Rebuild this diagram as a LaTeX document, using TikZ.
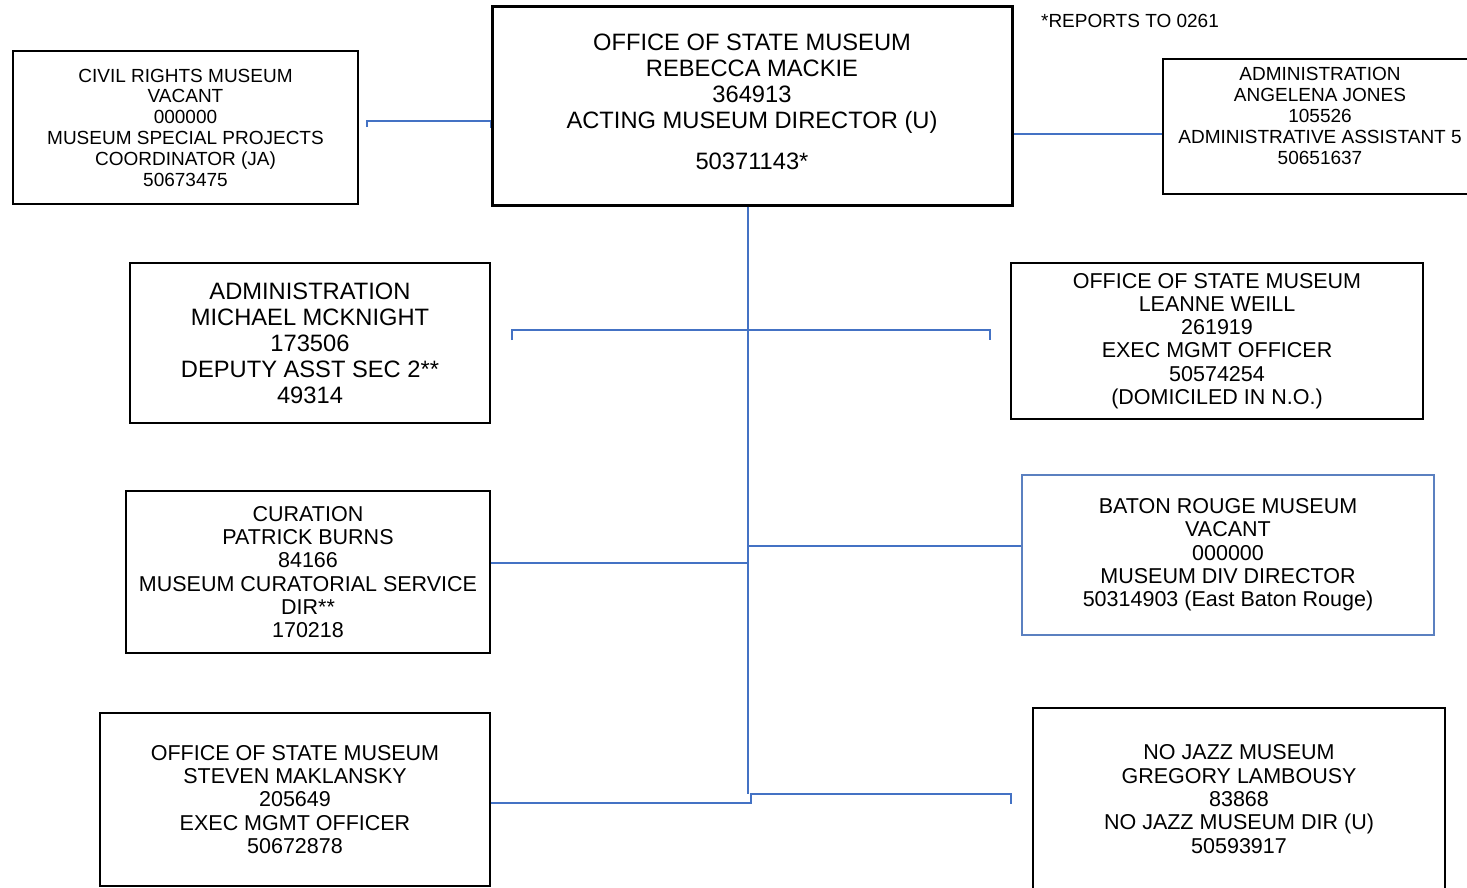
\documentclass[tikz,border=0pt]{standalone}
\usepackage{fontspec}
\setmainfont{Liberation Sans}
\definecolor{linkblue}{HTML}{4472C4}
\definecolor{boxblue}{HTML}{5B80C0}
\tikzset{
  box/.style={draw, line width=1.3pt, align=center, inner sep=0pt},
  link/.style={draw=linkblue, line width=1.5pt},
  big/.style={font=\fontsize{23.7}{26}\selectfont},
  mid/.style={font=\fontsize{21.5}{23.3}\selectfont},
  small/.style={font=\fontsize{19}{20.8}\selectfont},
}
\begin{document}
\begin{tikzpicture}[x=1pt,y=-1pt]
\useasboundingbox (0,0) rectangle (1467,887);
% director and top row
\node[box, big, line width=3pt, minimum width=520, minimum height=199] (dir) at (752,105.5) {OFFICE OF STATE MUSEUM\\REBECCA MACKIE\\364913\\ACTING MUSEUM DIRECTOR (U)\\[15pt]50371143*\rule[-8pt]{0pt}{8pt}};
\node[small] (note) at (1130,21) {*REPORTS TO 0261};
\node[box, small, minimum width=345, minimum height=153] (civil) at (185.5,127.5) {CIVIL RIGHTS MUSEUM\\VACANT\\000000\\MUSEUM SPECIAL PROJECTS\\COORDINATOR (JA)\\50673475};
\node[box, minimum width=314, minimum height=135] (adminR) at (1320,126.5) {};
\node[small, align=center] (adminRtxt) at (1320,116) {ADMINISTRATION\\ANGELENA JONES\\105526\\ADMINISTRATIVE ASSISTANT 5\\50651637};
% left column
\node[box, big, minimum width=360, minimum height=160] (adminL) at (310,343) {ADMINISTRATION\\MICHAEL MCKNIGHT\\173506\\DEPUTY ASST SEC 2**\\49314};
\node[box, mid, minimum width=364, minimum height=162] (curation) at (308,572) {CURATION\\PATRICK BURNS\\84166\\MUSEUM CURATORIAL SERVICE\\DIR**\\170218};
\node[box, mid, minimum width=390, minimum height=173] (maklansky) at (295,799.5) {OFFICE OF STATE MUSEUM\\STEVEN MAKLANSKY\\205649\\EXEC MGMT OFFICER\\50672878};
% right column
\node[box, mid, minimum width=412, minimum height=156] (weill) at (1217,341) {OFFICE OF STATE MUSEUM\\LEANNE WEILL\\261919\\EXEC MGMT OFFICER\\50574254\\(DOMICILED IN N.O.)};
\node[box, mid, draw=boxblue, minimum width=412, minimum height=160] (baton) at (1228,555) {BATON ROUGE MUSEUM\\VACANT\\000000\\MUSEUM DIV DIRECTOR\\50314903 (East Baton Rouge)};
\node[box, mid, minimum width=412, minimum height=182] (jazz) at (1239,799) {NO JAZZ MUSEUM\\GREGORY LAMBOUSY\\83868\\NO JAZZ MUSEUM DIR (U)\\50593917};
% connectors
\coordinate (civilend) at (367,127);
\coordinate (trunk) at (748,794);
\coordinate (bl) at (512,340);
\coordinate (br) at (990,340);
\coordinate (jazzend) at (1011,804);
\draw[link] (civilend) -- (civilend |- 0,121) -- (dir.west |- 0,121) -- ([yshift=-7pt]dir.west |- 0,121);
\draw[link] (dir.east |- 0,134) -- (adminR.west |- 0,134);
\draw[link] (dir.south -| trunk) -- (trunk);
\draw[link] (bl) -- (bl |- 0,330) -- (br |- 0,330) -- (br);
\draw[link] (curation.east |- 0,563) -- (trunk |- 0,563);
\draw[link] (trunk |- 0,546) -- (baton.west |- 0,546);
\draw[link] (maklansky.east |- 0,803) -- (751,803) -- (751,794) -- (jazzend |- trunk) -- (jazzend);
\end{tikzpicture}
\end{document}
